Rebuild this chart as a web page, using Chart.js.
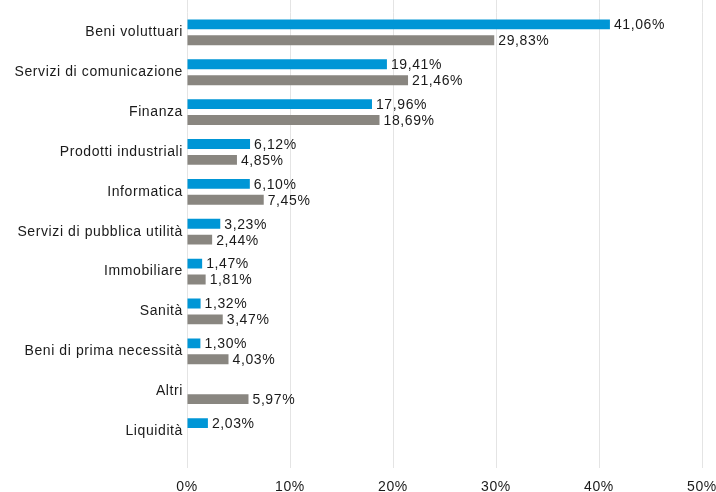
<!DOCTYPE html>
<html>
<head>
<meta charset="utf-8">
<script src="https://cdn.jsdelivr.net/npm/chart.js@4/dist/chart.umd.min.js"></script>
<style>
  html, body { margin: 0; padding: 0; background: #fff; }
  #wrap { width: 716px; height: 492px; }
</style>
</head>
<body>
<div id="wrap"><canvas id="chart" width="716" height="492"></canvas></div>
<script>
// categorie e valori (%)
const categories = [
    "Beni voluttuari", "Servizi di comunicazione", "Finanza", "Prodotti industriali",
    "Informatica", "Servizi di pubblica utilità", "Immobiliare", "Sanità",
    "Beni di prima necessità", "Altri", "Liquidità"
];
const seriesBlue = [41.06, 19.41, 17.96, 6.12, 6.10, 3.23, 1.47, 1.32, 1.30, null, 2.03];
const seriesGrey = [29.83, 21.46, 18.69, 4.85, 7.45, 2.44, 1.81, 3.47, 4.03, 5.97, null];
const xTicks = [0, 10, 20, 30, 40, 50];

const FONT = "'Liberation Sans', Arial, sans-serif";
const SPACING = "0.6px";
const GRID = "#e4e4e4";

// spaziatura lettere un po' più larga, come nell'originale
const letterSpacing = {
    id: "letterSpacing",
    beforeDraw(chart) { chart.ctx.letterSpacing = SPACING; }
};

// la griglia arriva fino al bordo superiore
const gridTop = {
    id: "gridTop",
    beforeDatasetsDraw(chart) {
        const ctx = chart.ctx;
        const xs = chart.scales.x;
        ctx.save();
        ctx.strokeStyle = GRID;
        ctx.lineWidth = 1;
        xTicks.forEach(v => {
            const x = Math.round(xs.getPixelForValue(v)) + 0.5;
            ctx.beginPath();
            ctx.moveTo(x, 0);
            ctx.lineTo(x, chart.chartArea.top);
            ctx.stroke();
        });
        ctx.restore();
    }
};

// etichette valori a fine barra
const valueLabels = {
    id: "valueLabels",
    afterDatasetsDraw(chart) {
        const ctx = chart.ctx;
        ctx.save();
        ctx.letterSpacing = SPACING;
        ctx.font = "14px " + FONT;
        ctx.fillStyle = "#1a1a1a";
        ctx.textAlign = "left";
        ctx.textBaseline = "middle";
        chart.data.datasets.forEach((ds, i) => {
            const meta = chart.getDatasetMeta(i);
            meta.data.forEach((bar, j) => {
                const v = ds.data[j];
                if (v === null || v === undefined) return;
                const txt = v.toFixed(2).replace(".", ",") + "%";
                ctx.fillText(txt, bar.x + 4, bar.y + 1);
            });
        });
        ctx.restore();
    }
};

new Chart(document.getElementById("chart"), {
    type: "bar",
    data: {
        labels: categories,
        datasets: [
            { label: "A", data: seriesBlue, backgroundColor: "#0096d6", borderWidth: 0,
              categoryPercentage: 0.8, barPercentage: 0.62 },
            { label: "B", data: seriesGrey, backgroundColor: "#898680", borderWidth: 0,
              categoryPercentage: 0.8, barPercentage: 0.62 }
        ]
    },
    options: {
        indexAxis: "y",
        responsive: false,
        animation: false,
        layout: { padding: { top: 11, right: 0, bottom: 0, left: 0 } },
        plugins: { legend: { display: false }, tooltip: { enabled: false } },
        scales: {
            x: {
                min: xTicks[0],
                max: xTicks[xTicks.length - 1],
                afterBuildTicks: (scale) => { scale.ticks = xTicks.map(v => ({ value: v })); },
                afterFit: (scale) => { scale.height = 41; scale.paddingRight = 14; },
                grid: { color: GRID, lineWidth: 1, drawTicks: true, tickLength: 17 },
                border: { display: false },
                ticks: {
                    padding: 11,
                    color: "#1a1a1a",
                    font: { family: FONT, size: 14 },
                    callback: (v) => v + "%"
                }
            },
            y: {
                afterFit: (scale) => { scale.width = 187; },
                grid: { display: false, drawTicks: false },
                border: { display: false },
                ticks: {
                    padding: 4,
                    color: "#1a1a1a",
                    font: { family: FONT, size: 14 }
                }
            }
        }
    },
    plugins: [letterSpacing, gridTop, valueLabels]
});
</script>
</body>
</html>
